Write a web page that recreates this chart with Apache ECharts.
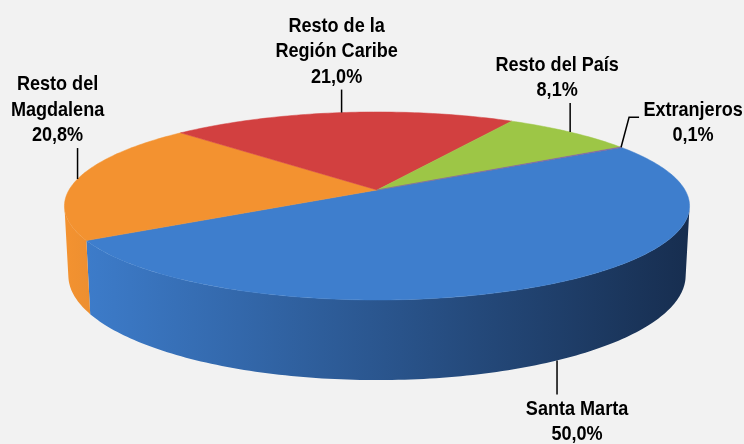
<!DOCTYPE html>
<html>
<head>
<meta charset="utf-8">
<script src="https://cdn.jsdelivr.net/npm/echarts@6/dist/echarts.min.js"></script>
<style>
  html, body { margin: 0; background: #f2f2f2; }
  #chart { width: 744px; height: 444px; }
</style>
</head>
<body>
<div id="chart"></div>
<script>
// --- data ---
const categories = ['Santa Marta', 'Resto del\nMagdalena', 'Resto de la\nRegión Caribe', 'Resto del País', 'Extranjeros'];
const shares = [50.0, 20.8, 21.0, 8.1, 0.1];
const colors = ['#3e7ecd', '#f39230', '#d24040', '#9dc646', '#8064a2'];

// leader lines (relative to anchor point) and text offsets [dx, dy, verticalAlign]
const leaders = [
  [[0, 0], [0, 34]],
  [[0, 0], [0, -31]],
  [[0, 0], [0, -23]],
  [[0, 0], [0, -29]],
  [[0, 0], [8, -30], [18, -30]],
];
const textOffsets = [
  [20, 36, 'top'],
  [-20, -31, 'bottom'],
  [-5, -23, 'bottom'],
  [-13, -29, 'bottom'],
  [72, -24.5, 'middle'],
];

// --- simple perspective projection of a tilted disc ---
const CX = 377, CY = 190;
const DIST = 5.62, FOCAL = 1731;
const SIN_T = 0.2964, COS_T = 0.955;
const DEPTH = 0.234;
const START = -30.4;
const RAD = Math.PI / 180;

function proj(deg, y) {
  const p = deg * RAD, x = Math.cos(p), z = Math.sin(p);
  const yc = y * COS_T - z * SIN_T;
  const zc = z * COS_T + y * SIN_T;
  const k = FOCAL / (DIST - zc);
  return [CX + x * k, CY - yc * k];
}

function arc(a0, a1, y) {
  const n = Math.max(2, Math.ceil(Math.abs(a1 - a0)));
  const pts = [];
  for (let i = 0; i <= n; i++) pts.push(proj(a0 + (a1 - a0) * i / n, y));
  return pts;
}

// part of the outer wall that faces the viewer
const visLo = Math.asin(1 / (DIST * COS_T)) / RAD;
const visHi = 180 - visLo;

function visibleSpans(a0, a1) {
  const out = [];
  for (let k = -1; k <= 1; k++) {
    const lo = Math.max(a0, visLo + 360 * k);
    const hi = Math.min(a1, visHi + 360 * k);
    if (hi > lo) out.push([lo, hi]);
  }
  return out;
}

function mix(hex, t) {
  const c = parseInt(hex.slice(1), 16);
  const dark = [16, 32, 58];
  const rgb = [(c >> 16) & 255, (c >> 8) & 255, c & 255].map((v, i) => Math.round(v * (1 - t) + dark[i] * t));
  return 'rgb(' + rgb.join(',') + ')';
}

const total = shares.reduce((a, b) => a + b, 0);
const bounds = [];
let acc = START;
shares.forEach((v) => {
  const span = v / total * 360;
  bounds.push([acc, acc + span]);
  acc += span;
});

function fmt(v) {
  return v.toFixed(1).replace('.', ',') + '%';
}

function renderItem(params, api) {
  const i = params.dataIndex;
  const [a0, a1] = bounds[i];
  const color = colors[i];
  const children = [];

  visibleSpans(a0, a1).forEach(([lo, hi]) => {
    const top = arc(lo, hi, 0);
    const bottom = arc(lo, hi, -DEPTH).reverse();
    children.push({
      type: 'polygon',
      z2: 1,
      shape: { points: top.concat(bottom) },
      style: {
        fill: new echarts.graphic.LinearGradient(68, 0, 686, 0, [
          { offset: 0, color: mix(color, 0.0) },
          { offset: 0.1, color: mix(color, 0.08) },
          { offset: 1, color: mix(color, 0.85) },
        ], true),
        stroke: null,
      },
    });
  });

  children.push({
    type: 'polygon',
    z2: 5,
    shape: { points: [[CX, CY]].concat(arc(a0, a1, 0)) },
    style: { fill: color, stroke: color, lineWidth: 0.5 },
  });

  const mid = (a0 + a1) / 2;
  const sinMid = Math.sin(mid * RAD);
  // front slice hangs its label below the wall, others above the rim
  const anchor = sinMid > 0.5 ? proj(mid, -DEPTH) : proj(mid, 0);
  children.push({
    type: 'polyline',
    z2: 10,
    shape: { points: leaders[i].map((p) => [anchor[0] + p[0], anchor[1] + p[1]]) },
    style: { stroke: '#000', lineWidth: 1.5, fill: null },
  });
  const [tx, ty, va] = textOffsets[i];
  children.push({
    type: 'text',
    z2: 10,
    x: anchor[0] + tx,
    y: anchor[1] + ty,
    scaleX: 0.86, // narrow face, like the original's condensed font
    style: {
      text: categories[i] + '\n' + fmt(shares[i]),
      fontFamily: '"Liberation Sans", Arial, sans-serif',
      fontWeight: 'bold',
      fontSize: 21,
      lineHeight: 25.5,
      fill: '#000',
      align: 'center',
      verticalAlign: va,
    },
  });

  return { type: 'group', children };
}

const chart = echarts.init(document.getElementById('chart'));
chart.setOption({
  backgroundColor: '#f2f2f2',
  animation: false,
  series: [
    {
      type: 'custom',
      coordinateSystem: 'none',
      renderItem,
      data: shares.map((v, i) => ({ name: categories[i], value: v })),
    },
  ],
});
</script>
</body>
</html>
